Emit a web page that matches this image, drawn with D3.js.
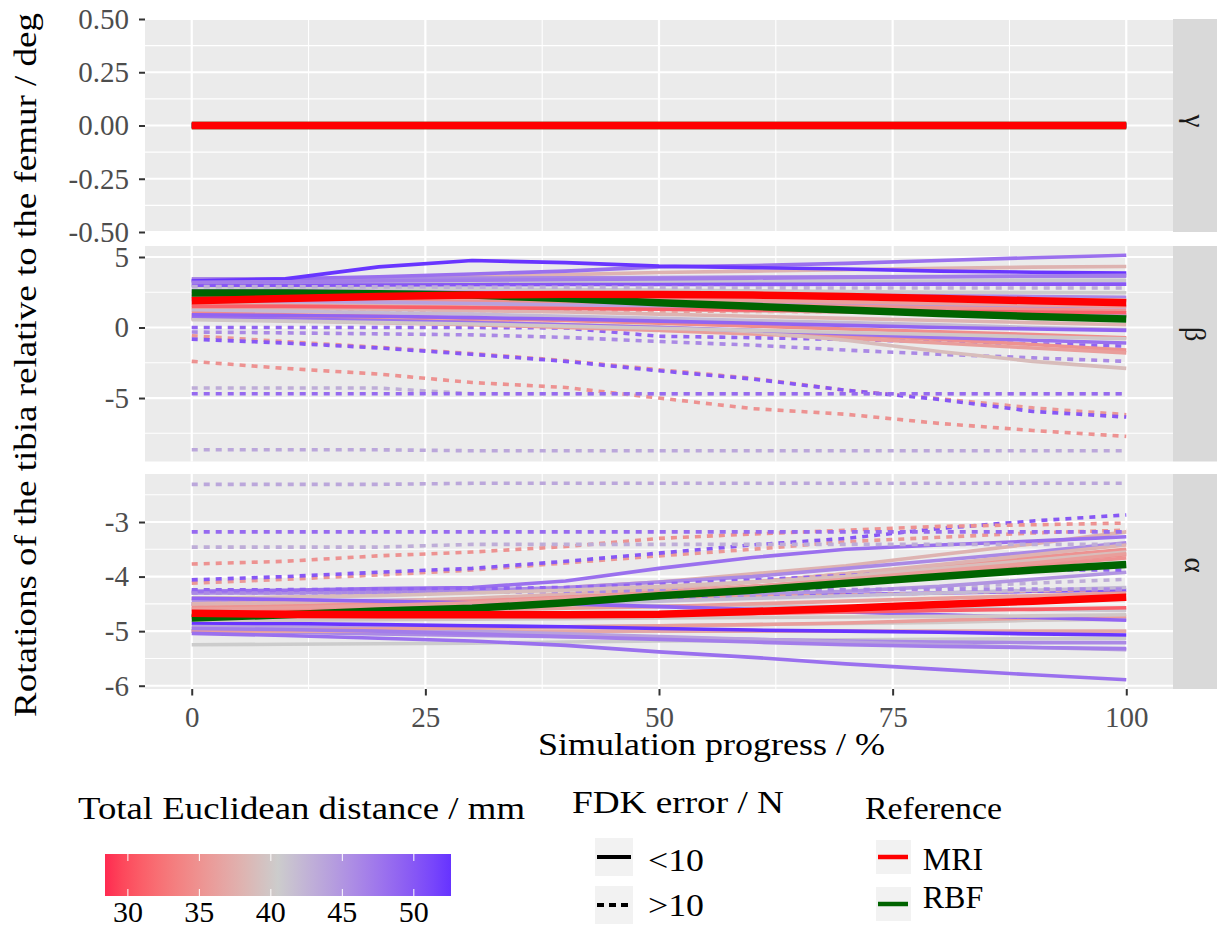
<!DOCTYPE html>
<html>
<head>
<meta charset="utf-8">
<script src="https://cdn.jsdelivr.net/npm/d3@7"></script>
<style>
@font-face { font-family: "ChartSerif"; src: local("Liberation Serif"), local("LiberationSerif"), local("LiberationSerif-Regular"); }
</style>
</head>
<body style="margin:0">
<script>
// simulation progress (%) at which each run was sampled
var progress = [0, 10, 20, 30, 40, 50, 60, 70, 80, 90, 100];
var gammaZero = [0, 0, 0, 0, 0, 0, 0, 0, 0, 0, 0];

// per run: total euclidean distance (mm) and FDK error class
var distances = [40.5, 38, 46, 41, 50, 43, 46, 37, 45, 35, 36, 40, 48, 36, 38, 49, 42, 34.5, 46, 44,
                 35, 35.5, 50, 36, 39, 48, 49, 35, 43, 48.5, 43.5, 52.5, 31, 47, 40, 36];
var fdkError = ["<10", "<10", "<10", "<10", "<10", ">10", "<10", "<10", "<10", "<10", ">10", "<10", "<10", "<10", "<10", ">10", "<10", "<10", ">10", "<10",
                "<10", ">10", ">10", "<10", "<10", "<10", "<10", ">10", ">10", ">10", ">10", "<10", "<10", "<10", "<10", "<10"];

var betaRuns = [
  [2.9, 2.85, 2.8, 2.75, 2.7, 2.65, 2.6, 2.55, 2.5, 2.48, 2.47],
  [3.3, 3.4, 3.5, 3.6, 3.75, 3.9, 4.0, 4.1, 4.2, 4.28, 4.33],
  [3.45, 3.45, 3.48, 3.5, 3.52, 3.55, 3.57, 3.6, 3.61, 3.62, 3.63],
  [3.1, 3.1, 3.15, 3.2, 3.2, 3.25, 3.25, 3.3, 3.3, 3.35, 3.35],
  [3.0, 3.0, 3.02, 3.03, 3.05, 3.05, 3.06, 3.07, 3.08, 3.08, 3.08],
  [2.9, 2.9, 2.88, 2.86, 2.85, 2.84, 2.82, 2.8, 2.8, 2.8, 2.8],
  [2.6, 2.6, 2.55, 2.5, 2.45, 2.4, 2.35, 2.3, 2.25, 2.2, 2.15],
  [2.4, 2.4, 2.35, 2.3, 2.25, 2.2, 2.15, 2.1, 2.05, 2.0, 1.95],
  [2.2, 2.15, 2.1, 2.05, 2.0, 1.9, 1.8, 1.7, 1.6, 1.5, 1.45],
  [2.0, 2.0, 1.95, 1.9, 1.8, 1.7, 1.6, 1.5, 1.4, 1.3, 1.2],
  [1.25, 1.24, 1.22, 1.2, 1.18, 1.16, 1.14, 1.12, 1.1, 1.08, 1.06],
  [1.7, 1.65, 1.6, 1.5, 1.4, 1.3, 1.2, 1.1, 1.0, 0.9, 0.85],
  [3.35, 3.45, 3.6, 3.8, 4.0, 4.3, 4.4, 4.55, 4.75, 4.95, 5.12],
  [1.6, 1.55, 1.5, 1.45, 1.4, 1.3, 1.2, 1.1, 1.0, 0.9, 0.8],
  [1.4, 1.35, 1.3, 1.2, 1.1, 0.95, 0.8, 0.65, 0.5, 0.35, 0.2],
  [0.0, 0.0, 0.0, 0.0, -0.03, -0.62, -0.72, -0.85, -1.0, -1.15, -1.32],
  [1.2, 1.15, 1.05, 0.95, 0.8, 0.65, 0.5, 0.35, 0.2, 0.0, -0.15],
  [1.0, 0.9, 0.8, 0.65, 0.5, 0.3, 0.1, -0.1, -0.3, -0.5, -0.73],
  [-0.32, -0.38, -0.45, -0.52, -0.7, -0.99, -1.25, -1.6, -1.9, -2.15, -2.4],
  [1.9, 1.85, 1.8, 1.7, 1.6, 1.5, 1.4, 1.3, 1.15, 1.0, 0.9],
  [0.8, 0.7, 0.55, 0.4, 0.2, 0.0, -0.25, -0.55, -0.85, -1.2, -1.6],
  [-0.58, -1.0, -1.4, -1.85, -2.35, -2.99, -3.6, -4.45, -5.05, -5.7, -6.18],
  [-0.82, -1.1, -1.45, -1.9, -2.4, -3.07, -3.65, -4.45, -5.1, -5.95, -6.35],
  [0.6, 0.5, 0.35, 0.2, 0.0, -0.2, -0.45, -0.75, -1.1, -1.45, -1.8],
  [0.6, 0.5, 0.4, 0.3, 0.2, 0.05, -0.3, -0.9, -1.7, -2.4, -2.9],
  [0.7, 0.6, 0.5, 0.35, 0.2, 0.0, -0.2, -0.45, -0.7, -0.9, -1.1],
  [0.9, 0.85, 0.8, 0.7, 0.6, 0.45, 0.3, 0.15, 0.0, -0.1, -0.2],
  [-2.4, -2.9, -3.3, -3.9, -4.25, -5.0, -5.75, -6.15, -6.8, -7.3, -7.72],
  [-4.29, -4.29, -4.29, -4.7, -4.7, -4.7, -4.7, -4.7, -4.7, -4.7, -4.7],
  [-4.7, -4.7, -4.7, -4.7, -4.7, -4.7, -4.7, -4.7, -4.7, -4.7, -4.7],
  [-8.67, -8.67, -8.67, -8.74, -8.74, -8.74, -8.74, -8.74, -8.74, -8.74, -8.74],
  [3.3, 3.45, 4.3, 4.75, 4.6, 4.35, 4.25, 4.15, 4.0, 3.92, 3.87],
  [1.5, 1.5, 1.45, 1.4, 1.35, 1.3, 1.25, 1.2, 1.15, 1.1, 1.05],
  [3.2, 3.25, 3.3, 3.35, 3.4, 3.45, 3.5, 3.55, 3.6, 3.65, 3.7],
  [0.55, 0.45, 0.35, 0.25, 0.1, -0.05, -0.2, -0.35, -0.5, -0.65, -0.8],
  [2.2, 2.2, 2.15, 2.1, 2.05, 2.0, 1.9, 1.8, 1.7, 1.6, 1.5]
];

var alphaRuns = [
  [-5.25, -5.24, -5.23, -5.22, -5.2, -5.18, -5.17, -5.16, -5.15, -5.14, -5.13],
  [-4.4, -4.38, -4.33, -4.28, -4.2, -4.1, -3.95, -3.8, -3.6, -3.4, -3.18],
  [-4.3, -4.3, -4.28, -4.25, -4.2, -4.1, -4.0, -3.85, -3.7, -3.55, -3.38],
  [-4.52, -4.52, -4.52, -4.52, -4.53, -4.53, -4.54, -4.55, -4.57, -4.6, -4.62],
  [-4.5, -4.49, -4.47, -4.45, -4.42, -4.4, -4.36, -4.33, -4.3, -4.27, -4.25],
  [-4.3, -4.3, -4.3, -4.29, -4.28, -4.27, -4.26, -4.25, -4.2, -4.12, -4.05],
  [-5.0, -5.02, -5.05, -5.08, -5.1, -5.12, -5.15, -5.18, -5.2, -5.21, -5.21],
  [-5.0, -5.0, -5.0, -5.0, -5.0, -5.0, -5.0, -5.0, -5.0, -5.0, -5.0],
  [-4.45, -4.45, -4.44, -4.42, -4.4, -4.37, -4.33, -4.27, -4.18, -4.05, -3.92],
  [-4.55, -4.52, -4.48, -4.42, -4.35, -4.25, -4.1, -3.95, -3.8, -3.65, -3.5],
  [-4.5, -4.48, -4.46, -4.44, -4.42, -4.4, -4.37, -4.34, -4.3, -4.26, -4.23],
  [-4.95, -4.95, -4.94, -4.93, -4.92, -4.9, -4.88, -4.86, -4.84, -4.8, -4.78],
  [-4.27, -4.25, -4.22, -4.2, -4.08, -3.85, -3.65, -3.5, -3.42, -3.35, -3.27],
  [-4.7, -4.68, -4.65, -4.62, -4.58, -4.55, -4.5, -4.45, -4.4, -4.35, -4.3],
  [-4.5, -4.48, -4.45, -4.4, -4.32, -4.22, -4.1, -3.95, -3.78, -3.6, -3.42],
  [-4.24, -4.24, -4.23, -4.22, -4.2, -4.14, -4.06, -3.98, -3.9, -3.88, -3.88],
  [-4.6, -4.6, -4.58, -4.55, -4.5, -4.45, -4.4, -4.35, -4.3, -4.25, -4.2],
  [-4.65, -4.6, -4.55, -4.48, -4.4, -4.3, -4.18, -4.05, -3.9, -3.75, -3.6],
  [-4.3, -4.3, -4.29, -4.28, -4.27, -4.26, -4.25, -4.24, -4.23, -4.23, -4.23],
  [-4.9, -4.92, -4.95, -5.0, -5.05, -5.1, -5.15, -5.2, -5.25, -5.3, -5.34],
  [-4.58, -4.55, -4.5, -4.45, -4.38, -4.3, -4.2, -4.1, -3.95, -3.8, -3.66],
  [-4.12, -4.05, -3.97, -3.88, -3.75, -3.62, -3.5, -3.36, -3.28, -3.2, -3.15],
  [-4.06, -4.0, -3.92, -3.85, -3.72, -3.57, -3.42, -3.3, -3.12, -2.98, -2.87],
  [-5.0, -4.98, -4.96, -4.94, -4.92, -4.9, -4.88, -4.85, -4.8, -4.76, -4.73],
  [-4.4, -4.38, -4.35, -4.3, -4.25, -4.18, -4.1, -4.0, -3.85, -3.7, -3.55],
  [-5.04, -5.08, -5.13, -5.18, -5.26, -5.38, -5.48, -5.6, -5.7, -5.8, -5.89],
  [-4.4, -4.42, -4.45, -4.48, -4.5, -4.55, -4.6, -4.65, -4.7, -4.75, -4.8],
  [-3.77, -3.72, -3.62, -3.55, -3.45, -3.3, -3.22, -3.15, -3.08, -3.05, -3.02],
  [-3.46, -3.46, -3.46, -3.41, -3.41, -3.41, -3.41, -3.41, -3.41, -3.41, -3.41],
  [-3.18, -3.18, -3.18, -3.18, -3.18, -3.18, -3.18, -3.18, -3.18, -3.18, -3.18],
  [-2.31, -2.31, -2.31, -2.29, -2.29, -2.29, -2.29, -2.29, -2.29, -2.29, -2.29],
  [-4.85, -4.86, -4.88, -4.9, -4.92, -4.95, -4.98, -5.0, -5.02, -5.05, -5.07],
  [-4.75, -4.75, -4.74, -4.73, -4.72, -4.7, -4.68, -4.65, -4.62, -4.6, -4.57],
  [-4.95, -4.97, -5.0, -5.05, -5.1, -5.15, -5.2, -5.25, -5.28, -5.3, -5.32],
  [-4.8, -4.8, -4.79, -4.78, -4.77, -4.76, -4.75, -4.74, -4.73, -4.72, -4.7],
  [-4.6, -4.57, -4.53, -4.48, -4.4, -4.3, -4.18, -4.05, -3.9, -3.75, -3.58]
];

// reference kinematics
var mriBeta = [1.9, 2.05, 2.2, 2.3, 2.35, 2.35, 2.3, 2.2, 2.05, 1.9, 1.75];
var mriAlpha = [-4.67, -4.69, -4.7, -4.7, -4.7, -4.69, -4.64, -4.58, -4.51, -4.45, -4.38];
var rbfBeta = [2.45, 2.44, 2.4, 2.3, 2.05, 1.75, 1.5, 1.25, 1.0, 0.78, 0.6];
var rbfAlpha = [-4.76, -4.7, -4.63, -4.58, -4.48, -4.35, -4.25, -4.12, -4.0, -3.88, -3.78];

var xTicks = [0, 25, 50, 75, 100];
var xMinor = [12.5, 37.5, 62.5, 87.5];
var distTicks = [30, 35, 40, 45, 50];
var distRange = [28.4, 40.5, 52.6];

var width = 1217, height = 926;
var panelLeft = 145, panelRight = 1173, stripWidth = 44;

var svg = d3.select("body").append("svg")
  .attr("width", width)
  .attr("height", height);

var x = d3.scaleLinear().domain([-5, 105]).range([panelLeft, panelRight]);

var colour = d3.scaleLinear()
  .domain(distRange)
  .range(["#ff2a50", "#cccccc", "#6633ff"])
  .interpolate(d3.interpolateLab);

// every text node gets the serif face directly
function label(parent) {
  return parent.append("text").style("font-family", "'Liberation Serif'");
}

var facets = [
  {name: "γ", top: 19, bottom: 232, domain: [-0.5, 0.5], ticks: [-0.5, -0.25, 0, 0.25, 0.5],
   minor: [-0.375, -0.125, 0.125, 0.375], fmt: function(d) { return d.toFixed(2); }, labelY: 121,
   runs: betaRuns.map(function() { return gammaZero; }), mri: gammaZero, rbf: gammaZero},
  {name: "β", top: 246, bottom: 461.5, domain: [-9.5, 5.78], ticks: [-5, 0, 5],
   minor: [-7.5, -2.5, 2.5], fmt: function(d) { return String(d); }, labelY: 334,
   runs: betaRuns, mri: mriBeta, rbf: rbfBeta},
  {name: "α", top: 474, bottom: 689, domain: [-6.06, -2.12], ticks: [-6, -5, -4, -3],
   minor: [-5.5, -4.5, -3.5, -2.5], fmt: function(d) { return String(d); }, labelY: 565,
   runs: alphaRuns, mri: mriAlpha, rbf: rbfAlpha}
];

// panels, grid and lines first
facets.forEach(function(f) {
  var y = d3.scaleLinear().domain(f.domain).range([f.bottom, f.top]);
  f.y = y;
  var g = svg.append("g");

  g.append("rect")
    .attr("x", panelLeft).attr("y", f.top)
    .attr("width", panelRight - panelLeft).attr("height", f.bottom - f.top)
    .attr("fill", "#ebebeb");

  g.selectAll(".hminor").data(f.minor).enter().append("line")
    .attr("x1", panelLeft).attr("x2", panelRight)
    .attr("y1", function(d) { return y(d); }).attr("y2", function(d) { return y(d); })
    .attr("stroke", "#fff").attr("stroke-width", 1.1);
  g.selectAll(".vminor").data(xMinor).enter().append("line")
    .attr("y1", f.top).attr("y2", f.bottom)
    .attr("x1", function(d) { return x(d); }).attr("x2", function(d) { return x(d); })
    .attr("stroke", "#fff").attr("stroke-width", 1.1);
  g.selectAll(".hmajor").data(f.ticks).enter().append("line")
    .attr("x1", panelLeft).attr("x2", panelRight)
    .attr("y1", function(d) { return y(d); }).attr("y2", function(d) { return y(d); })
    .attr("stroke", "#fff").attr("stroke-width", 2.2);
  g.selectAll(".vmajor").data(xTicks).enter().append("line")
    .attr("y1", f.top).attr("y2", f.bottom)
    .attr("x1", function(d) { return x(d); }).attr("x2", function(d) { return x(d); })
    .attr("stroke", "#fff").attr("stroke-width", 2.2);

  var line = d3.line()
    .x(function(d, i) { return x(progress[i]); })
    .y(function(d) { return y(d); });

  g.selectAll(".run").data(f.runs).enter().append("path")
    .attr("d", line)
    .attr("fill", "none")
    .attr("stroke", function(d, i) { return colour(distances[i]); })
    .attr("stroke-width", 3.6)
    .attr("stroke-dasharray", function(d, i) { return fdkError[i] === ">10" ? "6,6" : null; });

  g.append("path").attr("d", line(f.rbf))
    .attr("fill", "none").attr("stroke", "#006400").attr("stroke-width", 7.5);
  g.append("path").attr("d", line(f.mri))
    .attr("fill", "none").attr("stroke", "#ff0000").attr("stroke-width", 7.5);

  svg.append("rect")
    .attr("x", panelRight).attr("y", f.top)
    .attr("width", stripWidth).attr("height", f.bottom - f.top)
    .attr("fill", "#d9d9d9");
});

// axes and text
facets.forEach(function(f) {
  var ax = svg.append("g")
    .attr("transform", "translate(" + panelLeft + ",0)")
    .call(d3.axisLeft(f.y).tickValues(f.ticks).tickFormat(f.fmt).tickSize(6).tickPadding(10));
  ax.attr("font-family", null).attr("font-size", null);
  ax.select(".domain").remove();
  ax.selectAll("line").attr("stroke", "#333").attr("stroke-width", 2);
  ax.selectAll("text").attr("fill", "#4d4d4d")
    .style("font-family", "'Liberation Serif'").style("font-size", "29px");

  label(svg)
    .attr("transform", "translate(" + (panelRight + stripWidth / 2) + "," + f.labelY + ") rotate(90)")
    .attr("text-anchor", "middle")
    .attr("dominant-baseline", "central")
    .attr("fill", "#1a1a1a")
    .attr("font-size", 29)
    .text(f.name);
});

var xa = svg.append("g")
  .attr("transform", "translate(0,689)")
  .call(d3.axisBottom(x).tickValues(xTicks).tickSize(6.5).tickPadding(11));
xa.attr("font-family", null).attr("font-size", null);
xa.select(".domain").remove();
xa.selectAll("line").attr("stroke", "#333").attr("stroke-width", 2);
xa.selectAll("text").attr("fill", "#4d4d4d")
  .style("font-family", "'Liberation Serif'").style("font-size", "29px");

// axis titles
label(svg)
  .attr("x", 711.5).attr("y", 755)
  .attr("text-anchor", "middle")
  .attr("font-size", 31)
  .attr("textLength", 347).attr("lengthAdjust", "spacingAndGlyphs")
  .text("Simulation progress / %");

label(svg)
  .attr("transform", "translate(36,365) rotate(-90)")
  .attr("text-anchor", "middle")
  .attr("font-size", 31)
  .attr("textLength", 704).attr("lengthAdjust", "spacingAndGlyphs")
  .text("Rotations of the tibia relative to the femur / deg");

// colourbar legend
label(svg)
  .attr("x", 78).attr("y", 819)
  .attr("font-size", 32)
  .attr("textLength", 447).attr("lengthAdjust", "spacingAndGlyphs")
  .text("Total Euclidean distance / mm");

var bar = d3.scaleLinear().domain([distRange[0], distRange[2]]).range([105, 451]);
var grad = svg.append("defs").append("linearGradient").attr("id", "distGrad");
d3.range(0, 1.0001, 0.05).forEach(function(t) {
  var v = distRange[0] + t * (distRange[2] - distRange[0]);
  grad.append("stop").attr("offset", t).attr("stop-color", colour(v));
});
svg.append("rect")
  .attr("x", 105).attr("y", 854).attr("width", 346).attr("height", 42)
  .attr("fill", "url(#distGrad)");
svg.selectAll(".cbtick").data(distTicks).enter().append("path")
  .attr("d", function(d) {
    var px = bar(d);
    return "M" + px + ",854V861M" + px + ",889V896";
  })
  .attr("stroke", "#fff").attr("stroke-width", 1);
distTicks.forEach(function(d) {
  label(svg)
    .attr("x", bar(d)).attr("y", 921.5)
    .attr("text-anchor", "middle")
    .attr("font-size", 30)
    .text(d);
});

// FDK error legend
var fdkLevels = ["<10", ">10"];
label(svg)
  .attr("x", 572).attr("y", 813)
  .attr("font-size", 31)
  .attr("textLength", 212).attr("lengthAdjust", "spacingAndGlyphs")
  .text("FDK error / N");
var fdkKeyY = [838, 886];
var fdkLabY = [871, 916];
fdkLevels.forEach(function(lv, i) {
  svg.append("rect").attr("x", 595).attr("y", fdkKeyY[i]).attr("width", 38).attr("height", 38)
    .attr("fill", "#f2f2f2");
  svg.append("line")
    .attr("x1", 597).attr("x2", 631)
    .attr("y1", fdkKeyY[i] + 19).attr("y2", fdkKeyY[i] + 19)
    .attr("stroke", "#000").attr("stroke-width", 4)
    .attr("stroke-dasharray", lv === ">10" ? "7,5" : null);
  label(svg).attr("x", 648).attr("y", fdkLabY[i])
    .attr("font-size", 32)
    .attr("textLength", 56).attr("lengthAdjust", "spacingAndGlyphs")
    .text(lv);
});

// reference legend
var refNames = ["MRI", "RBF"];
var refColours = ["#ff0000", "#006400"];
label(svg)
  .attr("x", 865).attr("y", 818.5)
  .attr("font-size", 31)
  .attr("textLength", 137).attr("lengthAdjust", "spacingAndGlyphs")
  .text("Reference");
var refKeyY = [840, 887];
var refLabY = [870, 908];
refNames.forEach(function(nm, i) {
  svg.append("rect").attr("x", 876).attr("y", refKeyY[i]).attr("width", 35).attr("height", 34)
    .attr("fill", "#f2f2f2");
  svg.append("line")
    .attr("x1", 878).attr("x2", 908)
    .attr("y1", refKeyY[i] + 17).attr("y2", refKeyY[i] + 17)
    .attr("stroke", refColours[i]).attr("stroke-width", 4.5);
  label(svg).attr("x", 922.7).attr("y", refLabY[i])
    .attr("font-size", 32)
    .text(nm);
});
</script>
</body>
</html>
